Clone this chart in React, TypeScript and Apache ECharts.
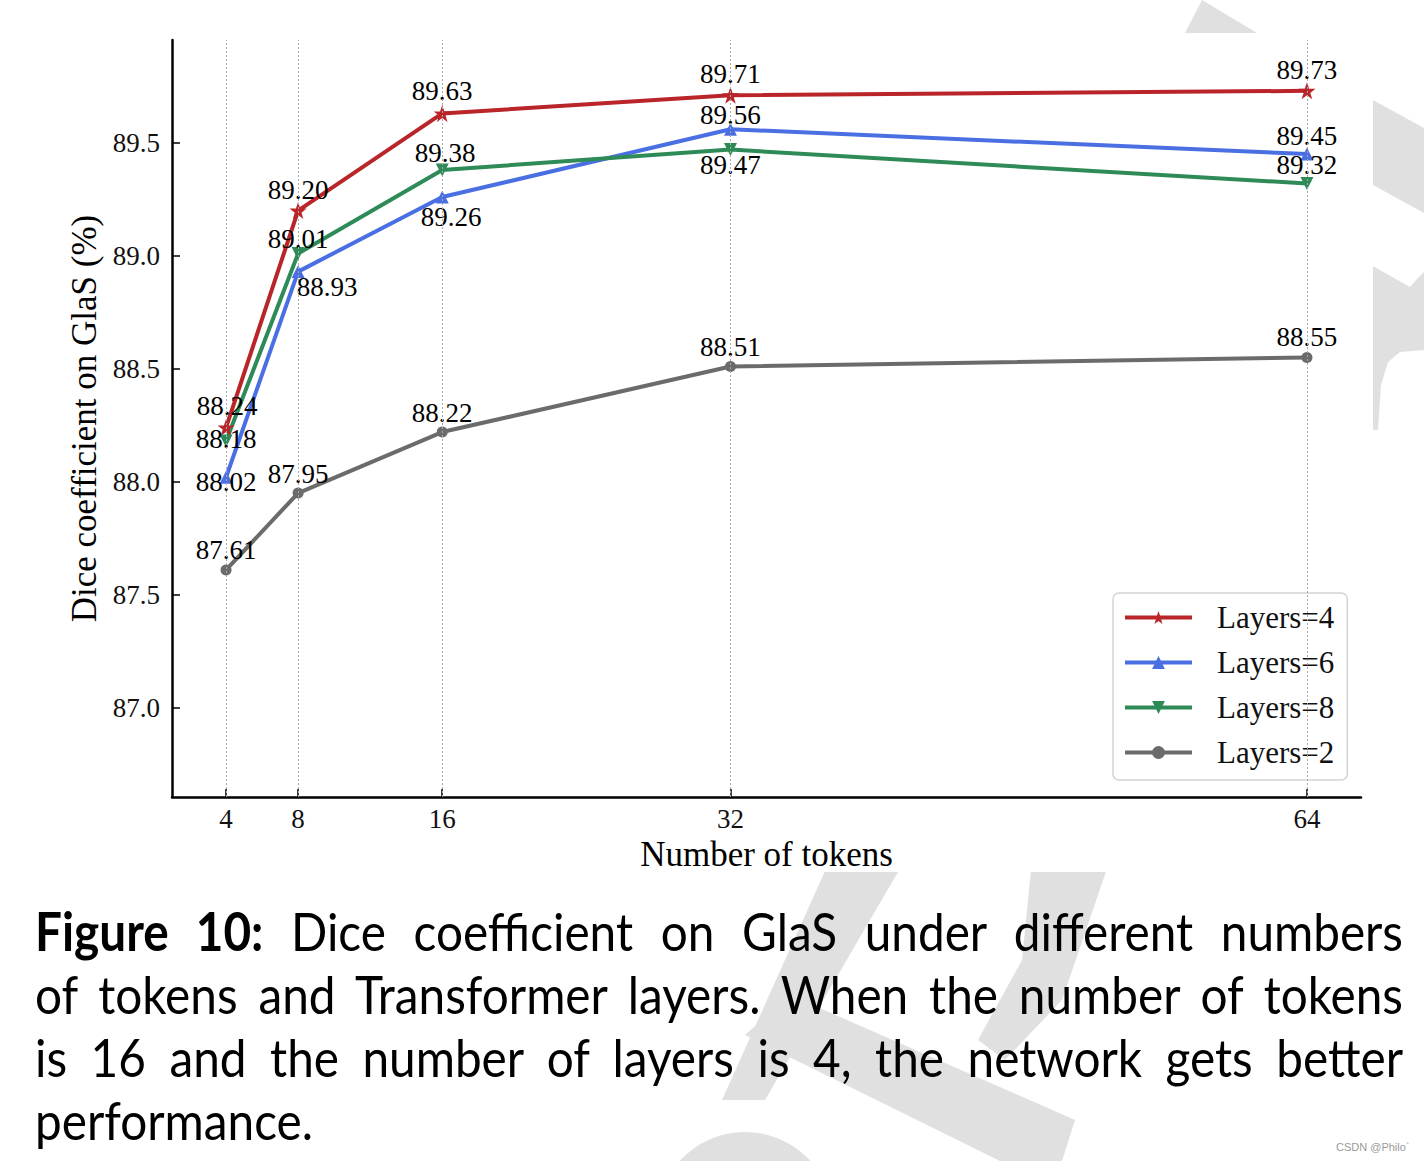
import React, { useEffect, useRef } from "react";
import * as echarts from "echarts";

// ---------- data ----------
const tokens = [4, 8, 16, 32, 64];
const seriesNames = ["Layers=4", "Layers=6", "Layers=8", "Layers=2"];
const layers4 = [88.24, 89.2, 89.63, 89.71, 89.73];
const layers6 = [88.02, 88.93, 89.26, 89.56, 89.45];
const layers8 = [88.18, 89.01, 89.38, 89.47, 89.32];
const layers2 = [87.61, 87.95, 88.22, 88.51, 88.55];
const xTicks = [4, 8, 16, 32, 64];
const yTicks = [87.0, 87.5, 88.0, 88.5, 89.0, 89.5];

// label offsets (pixels, label centre relative to point)
const offs4 = [[1, -22], [0, -21], [0, -22], [0, -21], [0, -21]];
const offs6 = [[0, 5], [29, 15], [9, 20], [0, -14], [0, -18]];
const offs8 = [[0, -2], [0, -15], [3, -17], [0, 15], [0, -18]];
const offs2 = [[0, -20], [0, -19], [0, -19], [0, -20], [0, -20]];

const captionLines = [
  "Dice coefficient on GlaS under different numbers",
  "of tokens and Transformer layers. When the number of tokens",
  "is 16 and the number of layers is 4, the network gets better",
  "performance.",
];

const SERIF = "'Liberation Serif', 'Times New Roman', serif";
const STAR =
  "path://M12,0 L14.9,8.1 L23.4,8.1 L16.5,13.2 L19.1,21.3 L12,16.3 L4.9,21.3 L7.5,13.2 L0.6,8.1 L9.1,8.1 Z";
const WM = "#e0e0e0";

function mk(
  name: string,
  vals: number[],
  offs: number[][],
  color: string,
  symbol: string,
  symbolSize: number,
  rotate: number
) {
  return {
    name,
    type: "line",
    data: tokens.map((t, i) => ({ value: [t, vals[i]], label: { offset: offs[i] } })),
    symbol,
    symbolSize,
    symbolRotate: rotate,
    showAllSymbol: true,
    lineStyle: { color, width: 4 },
    itemStyle: { color },
    z: 3,
    label: {
      show: true,
      position: "inside",
      formatter: (p: any) => p.value[1].toFixed(2),
      fontFamily: SERIF,
      fontSize: 27,
      color: "#000",
    },
  };
}

export default function App() {
  const ref = useRef<HTMLDivElement>(null);
  useEffect(() => {
    const chart = echarts.init(ref.current!, null, { renderer: "svg" });
    const option: any = {
      animation: false,
      backgroundColor: "#ffffff",
      graphic: [
        { type: "polygon", z: -10, silent: true, shape: { points: [[1185, 33], [1202, 0], [1257, 33]] }, style: { fill: WM } },
        { type: "polygon", z: -10, silent: true, shape: { points: [[1300, 60], [1424, 128], [1424, 213], [1300, 145]] }, style: { fill: WM } },
        {
          type: "polygon", z: -10, silent: true,
          shape: { points: [[1300, 225], [1410, 287], [1418, 278], [1424, 272], [1424, 350], [1400, 352], [1388, 362], [1381, 385], [1378, 430], [1300, 430]] },
          style: { fill: WM },
        },
        { type: "polygon", z: -10, silent: true, shape: { points: [[830, 860], [905, 860], [765, 1100], [722, 1100]] }, style: { fill: WM } },
        { type: "polygon", z: -10, silent: true, shape: { points: [[1032, 860], [1110, 860], [1062, 1000], [1005, 1060], [978, 1040], [1022, 960]] }, style: { fill: WM } },
        { type: "polygon", z: -10, silent: true, shape: { points: [[745, 1035], [790, 995], [1075, 1120], [1062, 1161], [1000, 1161]] }, style: { fill: WM } },
        { type: "circle", z: -10, silent: true, shape: { cx: 745, cy: 1220, r: 88 }, style: { fill: WM } },
        { type: "rect", z: -5, silent: true, shape: { x: 0, y: 33, width: 1373, height: 839 }, style: { fill: "#ffffff" } },
        {
          type: "text", z: 5, x: 1336, y: 1141, silent: true,
          style: { text: "CSDN @Philo`", fontSize: 11, fontFamily: "'Liberation Sans', sans-serif", fill: "#9a9a9a" },
        },
      ],
      grid: { left: 172, top: 40, right: 63, bottom: 364, containLabel: false },
      xAxis: {
        type: "value",
        min: 1,
        max: 67,
        name: "Number of tokens",
        nameLocation: "middle",
        nameGap: 38,
        nameTextStyle: { fontFamily: SERIF, fontSize: 35, color: "#000" },
        axisLine: { show: true, lineStyle: { color: "#000", width: 2.5 } },
        axisTick: { show: true, inside: true, length: 8, customValues: xTicks, lineStyle: { color: "#000", width: 1.5 } },
        axisLabel: { show: true, customValues: xTicks, margin: 8, fontFamily: SERIF, fontSize: 27, color: "#111" },
        splitLine: { show: false },
      },
      yAxis: {
        type: "value",
        min: 86.605,
        max: 89.955,
        name: "Dice coefficient on GlaS (%)",
        nameLocation: "middle",
        nameGap: 66,
        nameTextStyle: { fontFamily: SERIF, fontSize: 35, color: "#000" },
        axisLine: { show: true, lineStyle: { color: "#000", width: 2.5 } },
        axisTick: { show: true, inside: true, length: 8, customValues: yTicks, lineStyle: { color: "#000", width: 1.5 } },
        axisLabel: {
          show: true,
          customValues: yTicks,
          margin: 12,
          formatter: (v: number) => v.toFixed(1),
          fontFamily: SERIF,
          fontSize: 27,
          color: "#111",
        },
        splitLine: { show: false },
      },
      legend: {
        data: seriesNames,
        orient: "vertical",
        left: 1113,
        top: 593,
        padding: [9, 13, 12, 10],
        itemWidth: 67,
        itemHeight: 16,
        itemGap: 14,
        backgroundColor: "#ffffff",
        borderColor: "#d3d3d3",
        borderWidth: 1.5,
        borderRadius: 6,
        lineStyle: { width: 4 },
        textStyle: { fontFamily: SERIF, fontSize: 31, color: "#111", padding: [0, 0, 0, 20], lineHeight: 31 },
      },
      series: [
        {
          type: "line",
          name: "grid",
          data: [],
          z: 1,
          silent: true,
          markLine: {
            silent: true,
            symbol: ["none", "none"],
            label: { show: false },
            lineStyle: { color: "#a8a8a8", width: 1, type: [2, 2] },
            data: xTicks.map((v) => ({ xAxis: v })),
          },
        },
        mk(seriesNames[0], layers4, offs4, "#b92528", STAR, 17, 0),
        mk(seriesNames[1], layers6, offs6, "#4a6fe3", "triangle", 13, 0),
        mk(seriesNames[2], layers8, offs8, "#2e8b57", "triangle", 13, 180),
        mk(seriesNames[3], layers2, offs2, "#6b6b6b", "circle", 11, 0),
      ],
    };
    chart.setOption(option);
    return () => chart.dispose();
  }, []);

  const s = 0.9;
  const lineStyle = (i: number, last: boolean): React.CSSProperties => ({
    position: "absolute",
    left: 35,
    top: 899 + 63 * i,
    width: 1368 / s,
    height: 63,
    lineHeight: "63px",
    fontSize: 53,
    fontFamily: "Lato, 'Open Sans', sans-serif",
    color: "#000",
    textAlign: last ? "left" : "justify",
    textAlignLast: last ? "left" : "justify",
    transform: `scaleX(${s})`,
    transformOrigin: "0 0",
  });

  return (
    <div style={{ position: "absolute", left: 0, top: 0, width: 1424, height: 1161, background: "#fff", overflow: "hidden" }}>
      <div ref={ref} style={{ position: "absolute", left: 0, top: 0, width: 1424, height: 1161 }} />
      {captionLines.map((t, i) => (
        <div key={i} style={lineStyle(i, i === captionLines.length - 1)}>
          {i === 0 ? (
            <>
              <span style={{ fontWeight: 700 }}>Figure 10:</span> {t}
            </>
          ) : (
            t
          )}
        </div>
      ))}
    </div>
  );
}
